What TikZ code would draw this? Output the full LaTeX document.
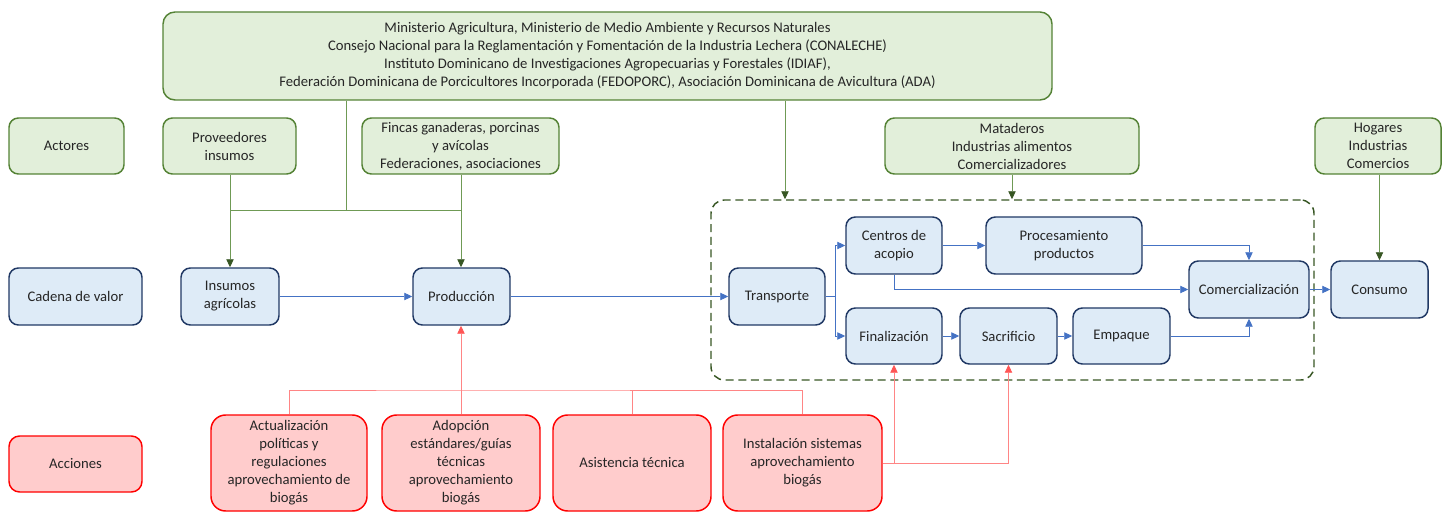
\documentclass[tikz,border=0pt]{standalone}
\usepackage{fontspec}
\setmainfont{Carlito}
\usetikzlibrary{arrows.meta,calc}
\definecolor{gfill}{HTML}{E2EFDA}
\definecolor{gdraw}{HTML}{548235}
\definecolor{gline}{HTML}{6F9A55}
\definecolor{gdark}{HTML}{375623}
\definecolor{bfill}{HTML}{DEEBF7}
\definecolor{bdraw}{HTML}{203864}
\definecolor{bline}{HTML}{4472C4}
\definecolor{rfill}{HTML}{FFCCCC}
\definecolor{rdraw}{HTML}{FF0000}
\definecolor{rline}{HTML}{FF8585}
\definecolor{rtip}{HTML}{FF5555}
\definecolor{txt}{HTML}{262626}
\tikzset{
  base/.style={rectangle, rounded corners=7pt, line width=1.1pt, inner sep=0pt, align=center, text=txt, font=\fontsize{11}{13.5}\selectfont},
  gbox/.style={base, fill=gfill, draw=gdraw},
  bbox/.style={base, fill=bfill, draw=bdraw},
  rbox/.style={base, fill=rfill, draw=rdraw, rounded corners=11pt},
  gln/.style={draw=gline, line width=0.65pt},
  garrow/.style={gln, -{Triangle[length=6pt,width=5.5pt,color=gdark]}},
  barrow/.style={draw=bline, line width=0.65pt, -{Triangle[length=6pt,width=5.5pt]}},
  bln/.style={draw=bline, line width=0.65pt},
  rln/.style={draw=rline, line width=0.65pt},
  rarrow/.style={draw=rline, line width=0.65pt, -{Triangle[length=6pt,width=5.5pt,color=rtip]}},
}
\newcommand{\bx}[7]{\node[#2, minimum width={(#5-#3)*0.75pt}, minimum height={(#6-#4)*0.75pt}] (#1) at ({(#3+#5)/2},{(#4+#6)/2}) {#7};}
\begin{document}
\begin{tikzpicture}[x=0.75pt,y=-0.75pt]
\useasboundingbox (0,0) rectangle (1442,513);
% container
\node[draw=gdark, line width=1.1pt, dash pattern=on 6pt off 3.5pt, rounded corners=10pt, minimum width={603*0.75pt}, minimum height={180*0.75pt}, inner sep=0pt] (cont) at (1012.5,290) {};
% green actors
\bx{top}{gbox,rounded corners=9pt}{163}{12}{1052}{100}{Ministerio Agricultura, Ministerio de Medio Ambiente y Recursos Naturales\\Consejo Nacional para la Reglamentación y Fomentación de la Industria Lechera (CONALECHE)\\Instituto Dominicano de Investigaciones Agropecuarias y Forestales (IDIAF),\\Federación Dominicana de Porcicultores Incorporada (FEDOPORC), Asociación Dominicana de Avicultura (ADA)}
\bx{act}{gbox}{9}{118}{124}{174}{Actores}
\bx{prov}{gbox}{163}{118}{296}{174}{Proveedores\\insumos}
\bx{fincas}{gbox}{362}{118}{559}{174}{Fincas ganaderas, porcinas\\y avícolas\\Federaciones, asociaciones}
\bx{mat}{gbox}{885}{118}{1139}{174}{Mataderos\\Industrias alimentos\\Comercializadores}
\bx{hog}{gbox}{1315}{118}{1441}{174}{Hogares\\Industrias\\Comercios}
% blue chain
\bx{cad}{bbox}{9}{268}{142}{325}{Cadena de valor}
\bx{ins}{bbox}{181}{268}{279}{325}{Insumos\\agrícolas}
\bx{prod}{bbox}{413}{268}{510}{325}{Producción}
\bx{trans}{bbox}{729}{268}{825}{325}{Transporte}
\bx{cent}{bbox}{846}{217}{942}{274}{Centros de\\acopio}
\bx{proc}{bbox}{986}{217}{1142}{274}{Procesamiento\\productos}
\bx{com}{bbox}{1189}{261}{1309}{318}{Comercialización}
\bx{cons}{bbox}{1331}{261}{1428}{318}{Consumo}
\bx{fin}{bbox}{846}{308}{942}{364}{Finalización}
\bx{sac}{bbox}{960}{308}{1057}{364}{Sacrificio}
\bx{emp}{bbox}{1073}{308}{1170}{364}{Empaque}
% red actions
\bx{acc}{rbox,rounded corners=8pt}{9}{436}{142}{492}{Acciones}
\bx{actu}{rbox}{211}{415}{367}{511}{Actualización\\políticas y\\regulaciones\\aprovechamiento de\\biogás}
\bx{adop}{rbox}{382}{415}{540}{511}{Adopción\\estándares/guías\\técnicas\\aprovechamiento\\biogás}
\bx{asis}{rbox}{553}{415}{711}{511}{Asistencia técnica}
\bx{inst}{rbox}{723}{415}{882}{511}{Instalación sistemas\\aprovechamiento\\biogás}
% green connectors
\coordinate (j1) at (230,210);
\coordinate (j2) at (346,210);
\coordinate (j3) at (461,210);
\draw[gln] (prov.south -| j1) -- (j1) -- (j3);
\draw[gln] (fincas.south -| j3) -- (j3);
\draw[gln] (top.south -| j2) -- (j2);
\draw[garrow] (j1) -- (ins.north -| j1);
\draw[garrow] (j3) -- (prod.north -| j3);
\coordinate (tc) at (785,100);
\draw[garrow] (top.south -| tc) -- (cont.north -| tc);
\draw[garrow] (mat.south) -- (cont.north -| mat.south);
\draw[garrow] (hog.south -| cons.north) -- (cons.north);
% blue connectors
\draw[barrow] (ins.east) -- (prod.west);
\draw[barrow] (prod.east) -- (trans.west);
\coordinate (tf) at (835,296.5);
\draw[bln] (trans.east) -- (tf);
\draw[barrow] (tf) |- (cent.west);
\draw[barrow] (tf) |- (fin.west);
\draw[barrow] (cent.east) -- (proc.west);
\draw[barrow] (cent.south) |- (com.west);
\draw[barrow] (proc.east) -| (com.north);
\draw[barrow] (emp.east) -| (com.south);
\draw[barrow] (fin.east) -- (sac.west);
\draw[barrow] (sac.east) -- (emp.west);
\draw[barrow] (com.east) -- (cons.west);
% red connectors
\coordinate (rj) at (461,390);
\draw[rarrow] (adop.north) -- (prod.south -| adop.north);
\draw[rln] (actu.north) |- (rj) -| (inst.north);
\draw[rln] (asis.north) -- (asis.north |- rj);
\draw[rarrow] (inst.east) -| (fin.south);
\draw[rarrow] (inst.east) -| (sac.south);
\end{tikzpicture}
\end{document}
